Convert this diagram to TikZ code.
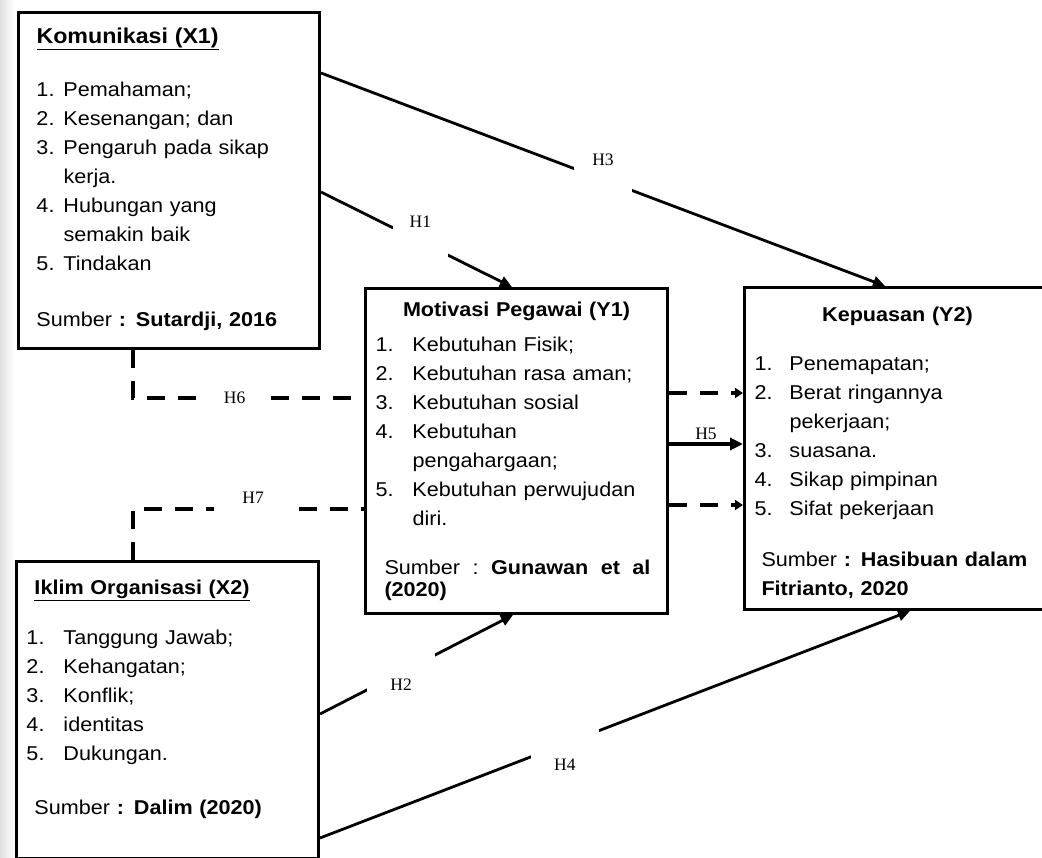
\documentclass[tikz,border=0pt]{standalone}
\usepackage{fontspec}
\setmainfont[FakeStretch=1.08]{Liberation Sans}
\newfontfamily\hfont{Liberation Serif}
\usetikzlibrary{arrows.meta, calc}

\newlength{\itmind}
\newcommand{\itm}[2]{\par\noindent\hangindent=\itmind\hangafter=1\makebox[\itmind][l]{#1}#2}

\begin{document}
\begin{tikzpicture}[x=1pt,y=-1pt]
        \tikzstyle{varbox}=[draw,line width=3pt,anchor=north west,inner ysep=0pt,font=\fontsize{20pt}{29pt}\selectfont]
        \tikzstyle{conn}=[line width=2.8pt,-{Triangle[length=12pt,width=11pt]}]
        \tikzstyle{dconn}=[line width=4.5pt,dash pattern=on 18pt off 13pt]
        \tikzstyle{lbl}=[fill=white,inner sep=0pt,font=\hfont\fontsize{17.5pt}{17.5pt}\selectfont]
        \tikzstyle{lblup}=[lbl,text height=11pt,text depth=39pt]
        \tikzstyle{lbldown}=[lbl,text height=58pt,text depth=4pt]
        \useasboundingbox (0,0) rectangle (1042,858);
        \clip (0,0) rectangle (1042,858);
        \shade[left color=black!12,right color=white] (0,0) rectangle (14,858);
        \node[varbox,inner xsep=18pt,text width=265pt,text height=31pt,text depth=305pt] (x1) at (17,11) {%
            \setlength{\itmind}{27pt}{\fontsize{21.5pt}{29pt}\selectfont\textbf{\underline{Komunikasi (X1)}}\par}\vspace{24pt}
            \itm{1.}{Pemahaman;}
            \itm{2.}{Kesenangan; dan}
            \itm{3.}{Pengaruh pada sikap\newline kerja.}
            \itm{4.}{Hubungan yang\newline semakin baik}
            \itm{5.}{Tindakan}\par\vspace{27pt}
            Sumber \textbf{: Sutardji, 2016}};
        \node[varbox,inner xsep=10pt,text width=282pt,text height=28pt,text depth=297pt] (y1) at (364,287) {%
            \setlength{\itmind}{37pt}{\centering\textbf{Motivasi Pegawai (Y1)}\par}\vspace{6pt}
            \itm{1.}{Kebutuhan Fisik;}
            \itm{2.}{Kebutuhan rasa aman;}
            \itm{3.}{Kebutuhan sosial}
            \itm{4.}{Kebutuhan\newline pengahargaan;}
            \itm{5.}{Kebutuhan perwujudan\newline diri.}\par\vspace{20pt}
            \hspace*{9pt}\parbox[t]{266pt}{Sumber\hfill:\hfill\textbf{Gunawan\hfill et\hfill al}\\[-7pt]\textbf{(2020)}}};
        \node[varbox,inner xsep=10pt,text width=286pt,text height=34pt,text depth=288pt] (y2) at (743,286) {%
            \setlength{\itmind}{35pt}{\centering\textbf{Kepuasan (Y2)}\par}\vspace{20pt}
            \itm{1.}{Penemapatan;}
            \itm{2.}{Berat ringannya\newline pekerjaan;}
            \itm{3.}{suasana.}
            \itm{4.}{Sikap pimpinan}
            \itm{5.}{Sifat pekerjaan}\par\vspace{22pt}
            \hspace*{7pt}Sumber \textbf{: Hasibuan dalam}\\\hspace*{7pt}\textbf{Fitrianto, 2020}};
        \node[varbox,inner xsep=10pt,text width=282pt,text height=33pt,text depth=264pt] (x2) at (15,560) {%
            \setlength{\itmind}{37pt}\hspace*{8pt}\textbf{\underline{Iklim Organisasi (X2)}}\par\vspace{21pt}
            \itm{1.}{Tanggung Jawab;}
            \itm{2.}{Kehangatan;}
            \itm{3.}{Konflik;}
            \itm{4.}{identitas}
            \itm{5.}{Dukungan.}\par\vspace{25pt}
            \hspace*{8pt}Sumber \textbf{: Dalim (2020)}};
        \draw[conn] ($(x1.north east)+(0,62)$) -- node[lblup,pos=0.5,minimum width=58pt]{H3} ($(y2.north west)+(142,0)$);
        \draw[conn] ($(x1.north east)+(0,181)$) -- node[lblup,pos=0.52,minimum width=55pt]{H1} ($(y1.north west)+(148,0)$);
        \draw[conn] ($(x2.north east)+(0,154)$) -- node[lbldown,pos=0.42,minimum width=68pt,yshift=9pt]{H2} ($(y1.south west)+(149,0)$);
        \draw[conn] ($(x2.north east)+(0,278)$) -- node[lbldown,pos=0.415,minimum width=68pt]{H4} ($(y2.south west)+(167,0)$);
        \draw[dconn] ($(x1.south west)+(116,0)$) |- node[lbl,pos=0.72,minimum width=68pt,text height=11pt]{H6} ($(y1.north west)+(0,111)$);
        \draw[dconn] ($(x2.north west)+(118,0)$) |- node[lbl,pos=0.76,minimum width=78pt,text height=11pt,text depth=22pt]{H7} ($(y1.north west)+(0,222)$);
        \draw[dconn,-{Triangle[length=8pt,width=10pt]}] ($(y1.north east)+(0,106)$) -- ($(y2.north west)+(0,107)$);
        \draw[dconn,-{Triangle[length=8pt,width=10pt]}] ($(y1.north east)+(0,218)$) -- ($(y2.north west)+(0,219)$);
        \draw[line width=4pt,-{Triangle[length=13pt,width=12pt]}] ($(y1.north east)+(0,157)$) -- node[above,inner sep=2pt,font=\hfont\fontsize{17.5pt}{17.5pt}\selectfont]{H5} ($(y2.north west)+(0,158)$);
    \end{tikzpicture}
\end{document}
